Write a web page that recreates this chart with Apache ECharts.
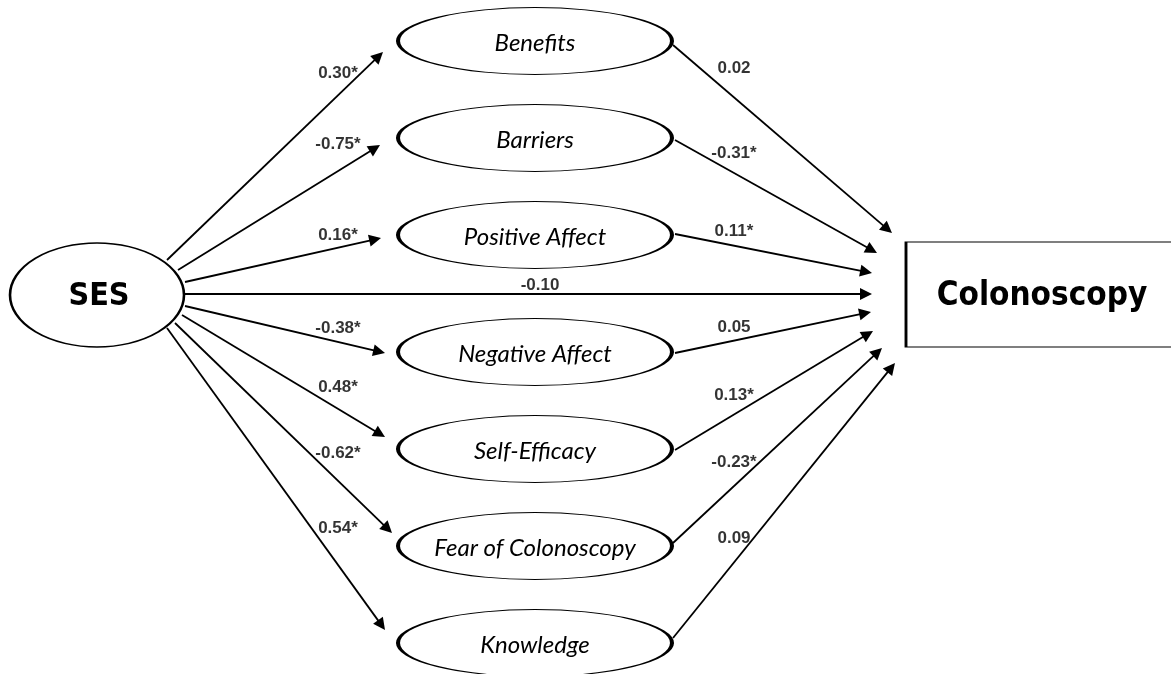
<!DOCTYPE html>
<html>
<head>
<meta charset="utf-8">
<style>
  html, body { margin: 0; padding: 0; background: #fff; }
  #chart { width: 1171px; height: 674px; }
</style>
<script src="https://cdn.jsdelivr.net/npm/echarts@6/dist/echarts.min.js"></script>
</head>
<body>
<div id="chart"></div>
<script>
// ---------------- DATA ----------------
const exposure = 'SES';
const outcome = 'Colonoscopy';
const mediators = ['Benefits', 'Barriers', 'Positive Affect', 'Negative Affect', 'Self-Efficacy', 'Fear of Colonoscopy', 'Knowledge'];
const sesToMediator = [0.30, -0.75, 0.16, -0.38, 0.48, -0.62, 0.54];
const sesToMediatorSig = [true, true, true, true, true, true, true];
const mediatorToOutcome = [0.02, -0.31, 0.11, 0.05, 0.13, -0.23, 0.09];
const mediatorToOutcomeSig = [false, true, true, false, true, true, false];
const directEffect = -0.10;
const directSig = false;

// ---------------- LAYOUT (diagram space, px) ----------------
const W = 1171, H = 674;
const sesNode = { x: 97, y: 295, w: 174, h: 104 };
const outNode = { x: 1042, y: 294.5, w: 272, h: 105 };
const medX = 535, medW = 274, medH = 67;
const medY = mediators.map((_, i) => 41 + 97 * i + (i >= 3 ? 20 : 0));
const leftStart = [[167, 260], [178, 270], [185, 282], [185, 306], [182, 315], [175, 323], [167, 328]];
const leftTip = [[383, 52], [380, 145], [381, 238], [385, 353], [385, 437], [392, 533], [385, 630]];
const rightStart = [[673, 45], [675, 140], [675, 234], [675, 353], [675, 450], [673, 543], [673, 638]];
const rightTip = [[892, 233], [877, 253], [872, 273], [871, 312], [873, 331], [882, 348], [895, 363]];
const directStart = [185, 294], directTip = [872, 294];
const leftLabelPos = [[338, 73], [338, 144], [338, 235], [338, 328], [338, 387], [338, 453], [338, 528]];
const rightLabelPos = [[734, 68], [734, 153], [734, 231], [734, 327], [734, 395], [734, 462], [734, 538]];
const directLabelPos = [540, 285];

const ARROW = 12;
const CONDENSED = '"Liberation Sans Narrow", "DejaVu Sans Condensed", "Roboto Condensed", "Arial Narrow", sans-serif';
function fmt(v, sig) { return v.toFixed(2) + (sig ? '*' : ''); }
function edge(a, b) {
  const dx = b[0] - a[0], dy = b[1] - a[1];
  const L = Math.sqrt(dx * dx + dy * dy);
  const k = (L - ARROW / 2) / L;
  return { coords: [a, [a[0] + dx * k, a[1] + dy * k]] };
}

const edges = [];
mediators.forEach((m, i) => {
  edges.push(edge(leftStart[i], leftTip[i]));
  edges.push(edge(rightStart[i], rightTip[i]));
});
edges.push(edge(directStart, directTip));

const coefLabels = [];
mediators.forEach((m, i) => {
  coefLabels.push({ value: leftLabelPos[i], name: fmt(sesToMediator[i], sesToMediatorSig[i]) });
  coefLabels.push({ value: rightLabelPos[i], name: fmt(mediatorToOutcome[i], mediatorToOutcomeSig[i]) });
});
coefLabels.push({ value: directLabelPos, name: fmt(directEffect, directSig) });

const chart = echarts.init(document.getElementById('chart'));
chart.setOption({
  animation: false,
  backgroundColor: '#fff',
  grid: { left: 0, right: 0, top: 0, bottom: 0 },
  xAxis: { type: 'value', min: 0, max: W, show: false },
  yAxis: { type: 'value', min: 0, max: H, inverse: true, show: false },
  series: [
    {
      type: 'lines',
      coordinateSystem: 'cartesian2d',
      z: 1,
      symbol: ['none', 'triangle'],
      symbolSize: ARROW,
      lineStyle: { color: '#000', width: 1.8, opacity: 1, curveness: 0 },
      data: edges
    },
    {
      type: 'scatter',
      z: 3,
      symbol: 'circle',
      symbolSize: [medW, medH],
      itemStyle: { color: '#fff', borderColor: '#000', borderWidth: 2, opacity: 1 },
      label: {
        show: true, position: 'inside', formatter: '{b}',
        fontFamily: 'Lato', fontStyle: 'italic', fontSize: 24, color: '#000', offset: [0, 2]
      },
      data: mediators.map((m, i) => ({ name: m, value: [medX, medY[i]] }))
    },
    {
      type: 'scatter',
      z: 3,
      symbol: 'circle',
      symbolSize: [sesNode.w, sesNode.h],
      itemStyle: { color: '#fff', borderColor: '#000', borderWidth: 2, opacity: 1 },
      label: {
        show: true, position: 'inside', formatter: '{b}',
        fontFamily: CONDENSED, fontWeight: 'bold', fontSize: 32, color: '#000', offset: [2, 2]
      },
      data: [{ name: exposure, value: [sesNode.x, sesNode.y] }]
    },
    {
      type: 'scatter',
      z: 3,
      symbol: 'rect',
      symbolSize: [outNode.w, outNode.h],
      itemStyle: { color: '#fff', borderColor: '#000', borderWidth: 1.8, opacity: 1 },
      label: {
        show: true, position: 'inside', formatter: '{b}',
        fontFamily: CONDENSED, fontWeight: 'bold', fontSize: 33, color: '#000', offset: [0, 2]
      },
      data: [{ name: outcome, value: [outNode.x, outNode.y] }]
    },
    {
      type: 'scatter',
      z: 4,
      symbolSize: 1,
      itemStyle: { color: 'rgba(0,0,0,0)' },
      label: {
        show: true, position: 'inside', formatter: '{b}',
        fontFamily: 'Liberation Sans', fontWeight: 'bold', fontSize: 17, color: '#000'
      },
      data: coefLabels
    }
  ]
});
</script>
</body>
</html>
